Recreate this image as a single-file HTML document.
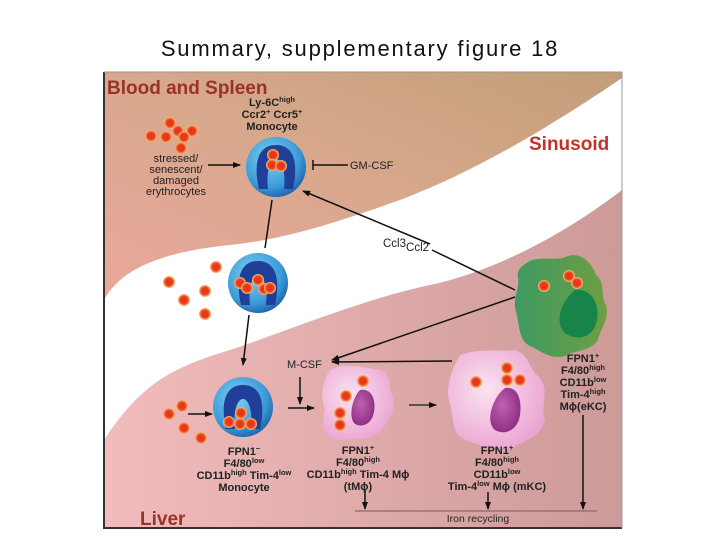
<!DOCTYPE html>
<html><head><style>
body{margin:0;background:#fff;width:720px;height:540px;overflow:hidden}
svg{position:absolute;left:0;top:0}
text{font-family:"Liberation Sans",Arial,sans-serif}
.b{font-weight:bold;font-size:11px;fill:#222}
.n{font-size:11px;fill:#222}
</style></head><body>
<svg width="720" height="540" viewBox="0 0 720 540">
<defs>
<linearGradient id="top" x1="0" y1="1" x2="1" y2="0">
<stop offset="0" stop-color="#eaa89e"/><stop offset="0.5" stop-color="#d8a88c"/><stop offset="1" stop-color="#c29e78"/></linearGradient>
<linearGradient id="liv" x1="0" y1="0" x2="1" y2="0">
<stop offset="0" stop-color="#f2bcbc"/><stop offset="1" stop-color="#cc9a98"/></linearGradient>
<radialGradient id="cell" cx="0.4" cy="0.35" r="0.7">
<stop offset="0" stop-color="#7fd0f0"/><stop offset="0.7" stop-color="#3a9ad8"/><stop offset="1" stop-color="#1d5fa8"/></radialGradient>
<linearGradient id="grn" x1="0" y1="0" x2="1" y2="0"><stop offset="0" stop-color="#3e9a62"/><stop offset="1" stop-color="#6e9e42"/></linearGradient>
<radialGradient id="pk" cx="0.4" cy="0.4" r="0.7"><stop offset="0" stop-color="#fbe2f0"/><stop offset="1" stop-color="#eaa0d0"/></radialGradient>
<radialGradient id="nuc" cx="0.4" cy="0.4" r="0.7"><stop offset="0" stop-color="#c060b0"/><stop offset="1" stop-color="#8a2a80"/></radialGradient>
<radialGradient id="rbc"><stop offset="0.55" stop-color="#e8381c"/><stop offset="0.8" stop-color="#f08040"/><stop offset="1" stop-color="#f8c080"/></radialGradient>
<marker id="ar" markerWidth="8" markerHeight="8" refX="7" refY="4" orient="auto" markerUnits="userSpaceOnUse"><path d="M0,1 L8,4 L0,7Z" fill="#111"/></marker>
<g id="mono"><circle r="30" fill="url(#cell)"/><path d="M-17,22 C-22,0 -20,-22 0,-22 C20,-22 22,0 17,22 L8,22 C10,5 6,-8 0,-8 C-6,-8 -10,5 -8,22Z" fill="#1f3f98"/></g>
<g id="r"><circle r="6" fill="url(#rbc)"/></g>
</defs>
<text x="360" y="56" text-anchor="middle" style="font-size:22px;letter-spacing:1.8px" fill="#111">Summary, supplementary figure 18</text>
<rect x="104" y="72" width="518" height="456" fill="url(#liv)"/>
<path d="M104,72 H622 V78 C560,120 480,170 400,200 C330,225 280,240 230,245 C160,252 120,270 104,300Z" fill="url(#top)"/>
<path d="M104,300 C120,270 160,252 230,245 C280,240 330,225 400,200 C480,170 560,120 622,78 V190 C570,230 500,270 430,285 C360,300 290,330 230,350 C170,368 140,385 104,440Z" fill="#fff"/>
<path d="M104,72 V528 H622" fill="none" stroke="#333" stroke-width="2"/>
<path d="M104,72 H622 V528" fill="none" stroke="#999" stroke-width="1"/>
<text x="107" y="94" style="font-size:19px;font-weight:bold" fill="#9a3228">Blood and Spleen</text>
<text x="529" y="150" style="font-size:19px;font-weight:bold" fill="#c0322a">Sinusoid</text>
<text x="140" y="525" style="font-size:19px;font-weight:bold" fill="#9a3228">Liver</text>
<use href="#r" x="170" y="123"/><use href="#r" x="178" y="131"/><use href="#r" x="192" y="131"/><use href="#r" x="184" y="137"/><use href="#r" x="151" y="136"/><use href="#r" x="166" y="137"/><use href="#r" x="181" y="148"/>
<text x="176" y="162" text-anchor="middle" class="n">stressed/</text>
<text x="176" y="173" text-anchor="middle" class="n">senescent/</text>
<text x="176" y="184" text-anchor="middle" class="n">damaged</text>
<text x="176" y="195" text-anchor="middle" class="n">erythrocytes</text>
<text x="272" y="106" text-anchor="middle" class="b">Ly-6C<tspan dy="-4" font-size="7.5">high</tspan></text>
<text x="272" y="118" text-anchor="middle" class="b">Ccr2<tspan dy="-4" font-size="7.5">+</tspan><tspan dy="4"> Ccr5</tspan><tspan dy="-4" font-size="7.5">+</tspan></text>
<text x="272" y="130" text-anchor="middle" class="b">Monocyte</text>
<use href="#mono" x="276" y="167"/>
<use href="#r" x="273" y="155"/><use href="#r" x="272" y="165"/><use href="#r" x="281" y="166"/>
<line x1="208" y1="165" x2="240" y2="165" stroke="#111" stroke-width="1.5" marker-end="url(#ar)"/>
<line x1="348" y1="165" x2="313" y2="165" stroke="#111" stroke-width="1.5"/><line x1="313" y1="160" x2="313" y2="170" stroke="#111" stroke-width="1.5"/>
<text x="350" y="169" class="n">GM-CSF</text>
<line x1="272" y1="200" x2="265" y2="248" stroke="#111" stroke-width="1.5"/>
<use href="#r" x="216" y="267"/><use href="#r" x="169" y="282"/><use href="#r" x="205" y="291"/><use href="#r" x="184" y="300"/><use href="#r" x="205" y="314"/>
<use href="#mono" x="258" y="283"/>
<use href="#r" x="240" y="283"/><use href="#r" x="258" y="280"/><use href="#r" x="247" y="288"/><use href="#r" x="264" y="289"/><use href="#r" x="270" y="288"/>
<line x1="249" y1="315" x2="243" y2="365" stroke="#111" stroke-width="1.5" marker-end="url(#ar)"/>
<use href="#r" x="182" y="406"/><use href="#r" x="169" y="414"/><use href="#r" x="184" y="428"/><use href="#r" x="201" y="438"/>
<line x1="188" y1="414" x2="212" y2="414" stroke="#111" stroke-width="1.5" marker-end="url(#ar)"/>
<use href="#mono" x="243" y="407"/>
<use href="#r" x="241" y="413"/><use href="#r" x="229" y="422"/><use href="#r" x="240" y="424"/><use href="#r" x="251" y="424"/>
<text x="244" y="455" text-anchor="middle" class="b">FPN1<tspan dy="-4" font-size="7.5">−</tspan></text>
<text x="244" y="467" text-anchor="middle" class="b">F4/80<tspan dy="-4" font-size="7.5">low</tspan></text>
<text x="244" y="479" text-anchor="middle" class="b">CD11b<tspan dy="-4" font-size="7.5">high</tspan><tspan dy="4"> Tim-4</tspan><tspan dy="-4" font-size="7.5">low</tspan></text>
<text x="244" y="491" text-anchor="middle" class="b">Monocyte</text>
<path d="M528,262 C540,255 555,262 568,256 C580,252 592,262 596,275 C606,282 600,296 606,305 C610,318 600,330 598,340 C590,352 575,350 565,356 C550,360 540,350 530,346 C518,340 520,325 516,312 C512,298 520,288 518,278 C516,270 522,266 528,262Z" fill="url(#grn)"/>
<path d="M575,290 C592,288 600,305 597,320 C594,336 580,342 566,334 C555,326 558,304 575,290Z" fill="#17844a"/>
<use href="#r" x="544" y="286"/><use href="#r" x="569" y="276"/><use href="#r" x="577" y="283"/>
<text x="583" y="362" text-anchor="middle" class="b">FPN1<tspan dy="-4" font-size="7.5">+</tspan></text>
<text x="583" y="374" text-anchor="middle" class="b">F4/80<tspan dy="-4" font-size="7.5">high</tspan></text>
<text x="583" y="386" text-anchor="middle" class="b">CD11b<tspan dy="-4" font-size="7.5">low</tspan></text>
<text x="583" y="398" text-anchor="middle" class="b">Tim-4<tspan dy="-4" font-size="7.5">high</tspan></text>
<text x="583" y="410" text-anchor="middle" class="b">Mϕ(eKC)</text>
<line x1="430" y1="244" x2="303" y2="191" stroke="#111" stroke-width="1.5" marker-end="url(#ar)"/>
<line x1="432" y1="250" x2="515" y2="290" stroke="#111" stroke-width="1.5"/>
<text x="383" y="247" class="n" style="font-size:11.5px">Ccl3<tspan dy="4">Ccl2</tspan></text>
<line x1="515" y1="297" x2="332" y2="360" stroke="#111" stroke-width="1.5" marker-end="url(#ar)"/>
<line x1="452" y1="361" x2="332" y2="362" stroke="#111" stroke-width="1.5" marker-end="url(#ar)"/>
<text x="287" y="368" class="n">M-CSF</text>
<line x1="300" y1="377" x2="300" y2="404" stroke="#111" stroke-width="1.5" marker-end="url(#ar)"/>
<line x1="288" y1="408" x2="314" y2="408" stroke="#111" stroke-width="1.5" marker-end="url(#ar)"/>
<line x1="409" y1="405" x2="436" y2="405" stroke="#333" stroke-width="1.5" marker-end="url(#ar)"/>
<path d="M330,370 C345,362 365,368 380,370 C392,372 388,385 392,395 C398,410 388,420 380,432 C365,442 350,438 338,440 C325,438 320,425 325,410 C320,398 322,382 330,370Z" fill="url(#pk)"/>
<path d="M360,390 C372,388 376,400 374,412 C372,424 362,428 355,424 C348,418 352,398 360,390Z" fill="url(#nuc)"/>
<use href="#r" x="363" y="381"/><use href="#r" x="346" y="396"/><use href="#r" x="340" y="413"/><use href="#r" x="340" y="425"/>
<text x="358" y="454" text-anchor="middle" class="b">FPN1<tspan dy="-4" font-size="7.5">+</tspan></text>
<text x="358" y="466" text-anchor="middle" class="b">F4/80<tspan dy="-4" font-size="7.5">high</tspan></text>
<text x="358" y="478" text-anchor="middle" class="b">CD11b<tspan dy="-4" font-size="7.5">high</tspan><tspan dy="4"> Tim-4 Mϕ</tspan></text>
<text x="358" y="490" text-anchor="middle" class="b">(tMϕ)</text>
<path d="M460,355 C478,348 500,352 515,350 C530,355 528,368 540,378 C550,392 540,405 545,420 C540,438 525,440 512,448 C495,452 480,445 465,440 C450,432 455,420 450,405 C445,390 450,372 460,355Z" fill="url(#pk)"/>
<path d="M505,388 C518,386 522,400 520,415 C518,430 505,436 495,430 C485,422 492,398 505,388Z" fill="url(#nuc)"/>
<use href="#r" x="476" y="382"/><use href="#r" x="507" y="368"/><use href="#r" x="507" y="380"/><use href="#r" x="520" y="380"/>
<text x="497" y="454" text-anchor="middle" class="b">FPN1<tspan dy="-4" font-size="7.5">+</tspan></text>
<text x="497" y="466" text-anchor="middle" class="b">F4/80<tspan dy="-4" font-size="7.5">high</tspan></text>
<text x="497" y="478" text-anchor="middle" class="b">CD11b<tspan dy="-4" font-size="7.5">low</tspan></text>
<text x="497" y="490" text-anchor="middle" class="b">Tim-4<tspan dy="-4" font-size="7.5">low</tspan><tspan dy="4"> Mϕ (mKC)</tspan></text>
<line x1="365" y1="490" x2="365" y2="509" stroke="#111" stroke-width="1.5" marker-end="url(#ar)"/>
<line x1="488" y1="492" x2="488" y2="509" stroke="#111" stroke-width="1.5" marker-end="url(#ar)"/>
<line x1="583" y1="415" x2="583" y2="509" stroke="#111" stroke-width="1.5" marker-end="url(#ar)"/>
<line x1="355" y1="511" x2="597" y2="511" stroke="#8a6a6a" stroke-width="1.2"/>
<text x="478" y="522" text-anchor="middle" class="n" style="font-size:10.5px">Iron recycling</text>
</svg>
</body></html>
